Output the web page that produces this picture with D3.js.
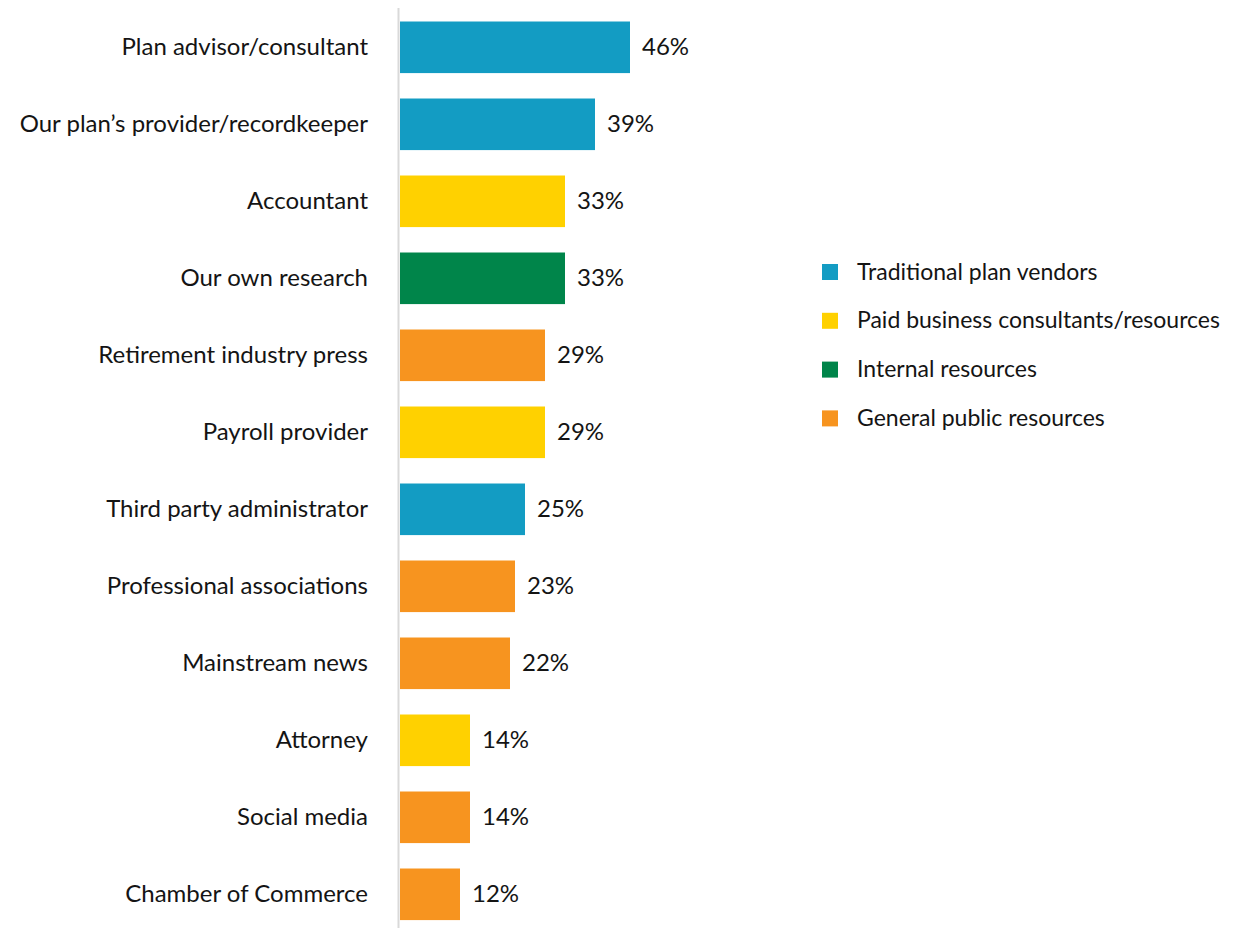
<!DOCTYPE html>
<html>
<head>
<meta charset="utf-8">
<script src="https://cdn.jsdelivr.net/npm/d3@7"></script>
<style>
  html, body { margin: 0; padding: 0; background: #fff; }
  svg text { font-family: "Lato", "Noto Sans", sans-serif; font-weight: 400; fill: #141414; }
</style>
</head>
<body>
<svg id="chart" width="1234" height="928"></svg>
<script>
const categories = [
  "Plan advisor/consultant",
  "Our plan\u2019s provider/recordkeeper",
  "Accountant",
  "Our own research",
  "Retirement industry press",
  "Payroll provider",
  "Third party administrator",
  "Professional associations",
  "Mainstream news",
  "Attorney",
  "Social media",
  "Chamber of Commerce"
];
const values = [46, 39, 33, 33, 29, 29, 25, 23, 22, 14, 14, 12];
const groups = [
  "Traditional plan vendors",
  "Traditional plan vendors",
  "Paid business consultants/resources",
  "Internal resources",
  "General public resources",
  "Paid business consultants/resources",
  "Traditional plan vendors",
  "General public resources",
  "General public resources",
  "Paid business consultants/resources",
  "General public resources",
  "General public resources"
];
const legendGroups = [
  "Traditional plan vendors",
  "Paid business consultants/resources",
  "Internal resources",
  "General public resources"
];
const groupColors = ["#139cc3", "#ffd100", "#00854a", "#f7941f"];

const svg = d3.select("#chart");
const color = d3.scaleOrdinal().domain(legendGroups).range(groupColors);

const x = d3.scaleLinear().domain([0, 10]).range([400, 450]);
const y = d3.scaleBand().domain(categories).range([8.8, 932.8]).paddingInner(0.33).paddingOuter(0.165);

// vertical baseline
svg.append("line")
  .attr("x1", x(0) - 1.5).attr("x2", x(0) - 1.5)
  .attr("y1", 8).attr("y2", 928)
  .attr("stroke", "#d9d9d9").attr("stroke-width", 2);

const rows = categories.map((c, i) => ({ c, v: values[i], g: groups[i] }));

svg.append("g").selectAll("rect").data(rows).join("rect")
  .attr("x", x(0))
  .attr("y", d => y(d.c))
  .attr("width", d => x(d.v) - x(0))
  .attr("height", y.bandwidth())
  .attr("fill", d => color(d.g));

// category labels
svg.append("g").selectAll("text").data(rows).join("text")
  .attr("x", 368)
  .attr("y", d => y(d.c) + y.bandwidth() / 2)
  .attr("dy", "0.33em")
  .attr("text-anchor", "end")
  .attr("font-size", 24)
  .text(d => d.c);

// value labels
svg.append("g").selectAll("text").data(rows).join("text")
  .attr("x", d => x(d.v) + 12)
  .attr("y", d => y(d.c) + y.bandwidth() / 2)
  .attr("dy", "0.33em")
  .attr("font-size", 24)
  .text(d => d.v + "%");

// legend
const legend = svg.append("g").attr("transform", "translate(822,272)");
const li = legend.selectAll("g").data(legendGroups).join("g")
  .attr("transform", (d, i) => `translate(0,${i * 48.8})`);
li.append("rect").attr("x", 0).attr("y", -8).attr("width", 16).attr("height", 16)
  .attr("fill", d => color(d));
li.append("text").attr("x", 35).attr("y", 0)
  .attr("dy", "0.33em").attr("font-size", 23)
  .text(d => d);
</script>
</body>
</html>
